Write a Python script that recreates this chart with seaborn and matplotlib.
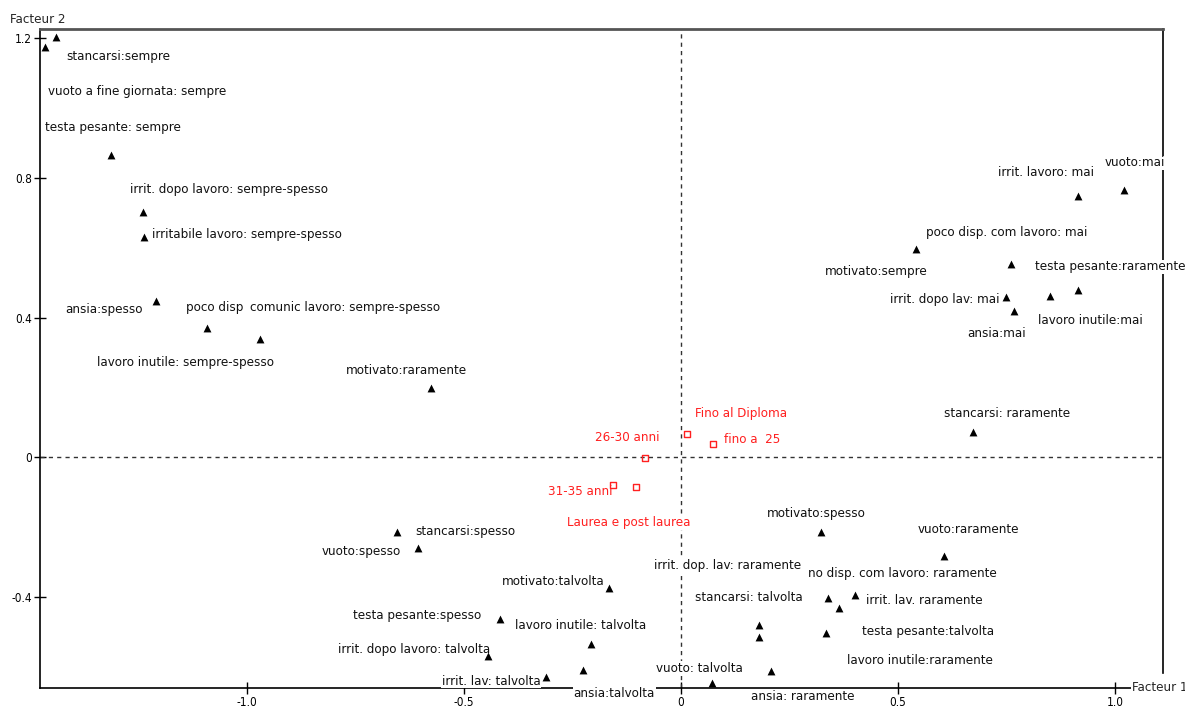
import matplotlib
matplotlib.use('Agg')

import matplotlib.pyplot as plt
from matplotlib import font_manager
import seaborn as sns
import pandas as pd

# Active categories: coordinates on factor 1 / factor 2
fact1 = [-1.465, -1.440, -1.313, -1.240, -1.237, -1.210, -1.092, -0.970, -0.576,
         0.915, 1.021, 0.541, 0.760, 0.915, 0.749, 0.767, 0.850, 0.673,
         -0.654, -0.606, -0.166, -0.417, -0.207, -0.445, -0.311, -0.226, 0.071,
         0.322, 0.606, 0.180, 0.180, 0.338, 0.364, 0.401, 0.334, 0.207]
fact2 = [1.176, 1.204, 0.866, 0.703, 0.631, 0.447, 0.370, 0.338, 0.198,
         0.748, 0.766, 0.596, 0.553, 0.479, 0.459, 0.419, 0.462, 0.072,
         -0.216, -0.260, -0.375, -0.465, -0.537, -0.570, -0.631, -0.611, -0.648,
         -0.214, -0.283, -0.482, -0.516, -0.405, -0.434, -0.396, -0.504, -0.613]

# Supplementary categories (age / education)
sup_labels = ["Fino al Diploma", "fino a  25", "26-30 anni", "31-35 anni", "Laurea e post laurea"]
sup_fact1 = [0.014, 0.074, -0.083, -0.157, -0.104]
sup_fact2 = [0.066, 0.037, -0.003, -0.080, -0.086]

# Label texts for the active categories
labels = ["stancarsi:sempre", "vuoto a fine giornata: sempre", "testa pesante: sempre",
          "irrit. dopo lavoro: sempre-spesso", "irritabile lavoro: sempre-spesso",
          "ansia:spesso", "poco disp", "comunic lavoro: sempre-spesso",
          "lavoro inutile: sempre-spesso", "motivato:raramente",
          "irrit. lavoro: mai", "vuoto:mai", "poco disp. com lavoro: mai", "motivato:sempre",
          "testa pesante:raramente", "irrit. dopo lav: mai", "lavoro inutile:mai", "ansia:mai",
          "stancarsi: raramente", "stancarsi:spesso", "vuoto:spesso", "motivato:talvolta",
          "testa pesante:spesso", "lavoro inutile: talvolta", "irrit. dopo lavoro: talvolta",
          "irrit. lav: talvolta", "ansia:talvolta", "vuoto: talvolta", "motivato:spesso",
          "vuoto:raramente", "irrit. dop. lav: raramente", "no disp. com lavoro: raramente",
          "stancarsi: talvolta", "irrit. lav. raramente", "testa pesante:talvolta",
          "lavoro inutile:raramente", "ansia: raramente"]

# where each label sits (left edge, vertical centre), in factor units
label_x = [-1.417, -1.459, -1.465, -1.270, -1.219, -1.419, -1.141, -0.993, -1.346, -0.772,
           0.730, 0.977, 0.565, 0.332, 0.816, 0.482, 0.823, 0.661, 0.606,
           -0.611, -0.827, -0.412, -0.756, -0.382, -0.790, -0.551, -0.247, -0.058,
           0.198, 0.546, -0.062, 0.293, 0.032, 0.426, 0.417, 0.382, 0.161]
label_y = [1.147, 1.049, 0.946, 0.768, 0.639, 0.424, 0.430, 0.430, 0.270, 0.247,
           0.817, 0.843, 0.645, 0.533, 0.545, 0.453, 0.390, 0.353, 0.126,
           -0.212, -0.270, -0.358, -0.453, -0.482, -0.551, -0.642, -0.677, -0.605,
           -0.161, -0.209, -0.310, -0.333, -0.404, -0.410, -0.499, -0.582, -0.685]
sup_label_x = [0.032, 0.099, -0.198, -0.306, -0.263]
sup_label_y = [0.126, 0.049, 0.057, -0.100, -0.189]

sns.set_theme(style='white')

# pick a narrow face if one is around, otherwise plain Liberation Sans a bit smaller
fonts = font_manager.fontManager.ttflist
stretch = 'normal'
if any(f.name == 'Liberation Sans Narrow' for f in fonts):
    plt.rcParams['font.family'] = ['Liberation Sans Narrow', 'DejaVu Sans']
    fs = 10.5
elif any(f.name == 'DejaVu Sans' and f.stretch == 'condensed' for f in fonts):
    plt.rcParams['font.family'] = ['DejaVu Sans']
    stretch = 'condensed'
    fs = 9.5
else:
    plt.rcParams['font.family'] = ['Liberation Sans', 'DejaVu Sans']
    fs = 9.5
plt.rcParams['font.stretch'] = stretch

fig = plt.figure(figsize=(11.85, 7.13), dpi=100)
ax = fig.add_axes([40 / 1185, 1 - 688 / 713, (1163 - 40) / 1185, (688 - 29) / 713])

act = pd.DataFrame({'f1': fact1, 'f2': fact2})
sup = pd.DataFrame({'f1': sup_fact1, 'f2': sup_fact2})

ax.axhline(0, color='#333333', lw=1, ls=(0, (3, 3)), zorder=1)
ax.axvline(0, color='#333333', lw=1, ls=(0, (3, 3)), zorder=1)

sns.scatterplot(data=act, x='f1', y='f2', marker='^', s=32, color='black',
                linewidth=0, ax=ax, zorder=4, clip_on=False)
sns.scatterplot(data=sup, x='f1', y='f2', marker='s', s=22, facecolor='none',
                edgecolor='#ff2020', linewidth=1, ax=ax, zorder=4)

box = dict(facecolor='white', edgecolor='none', pad=0.5)
for t, x, y in zip(labels, label_x, label_y):
    ax.text(x, y, t, ha='left', va='center', fontsize=fs, color='#111111',
            fontstretch=stretch, bbox=box, zorder=3, clip_on=False)
for t, x, y in zip(sup_labels, sup_label_x, sup_label_y):
    ax.text(x, y, t, ha='left', va='center', fontsize=fs, color='#ff2020',
            fontstretch=stretch, bbox=box, zorder=3, clip_on=False)

ax.set_xlim(-1.477, 1.111)
ax.set_ylim(-0.662, 1.227)
ax.set_xticks([-1.0, -0.5, 0, 0.5, 1.0])
ax.set_xticklabels(['-1.0', '-0.5', '0', '0.5', '1.0'])
ax.set_yticks([1.2, 0.8, 0.4, 0, -0.4])
ax.set_yticklabels(['1.2', '0.8', '0.4', '0', '-0.4'])
ax.tick_params(direction='inout', length=8, width=1, labelsize=8.5, colors='black',
               bottom=True, left=True, pad=2)
ax.set_xlabel('')
ax.set_ylabel('')

for side in ['left', 'bottom', 'right']:
    ax.spines[side].set_color('black')
    ax.spines[side].set_linewidth(1.2)
ax.spines['top'].set_color('#555555')
ax.spines['top'].set_linewidth(2)
ax.spines['right'].set_bounds(-0.62, 1.227)

ax.text(-1.545, 1.255, 'Facteur 2', ha='left', va='center', fontsize=9.5,
        fontstretch=stretch, bbox=box, zorder=5, clip_on=False)
ax.text(1.039, -0.660, 'Facteur 1', ha='left', va='center', fontsize=9.5,
        fontstretch=stretch, bbox=box, zorder=5, clip_on=False)

fig.savefig('out.png', dpi=100)
plt.close(fig)
